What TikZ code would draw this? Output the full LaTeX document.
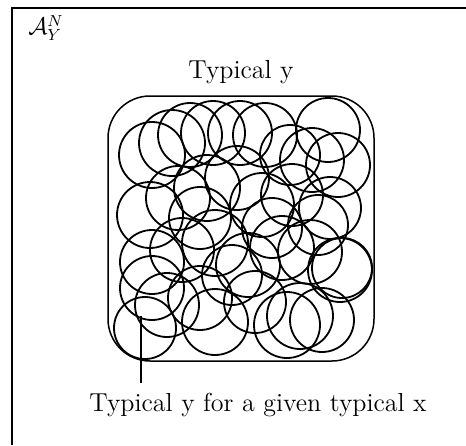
\documentclass[tikz,border=0pt]{standalone}
\usepackage{amsmath}
\usetikzlibrary{positioning}

\begin{document}
\begin{tikzpicture}[
    x=0.5pt, y=-0.5pt,
    frame/.style={line width=1pt}, % outer box
    setbox/.style={line width=0.75pt, rounded corners=21pt}, % typical set
    ball/.style={line width=0.9pt}, % conditional sets
    lbl/.style={font=\fontsize{13}{15}\selectfont, inner sep=1pt}
]
    \useasboundingbox (0,0) rectangle (466,445);

    % Outer frame
    \draw[frame] (12,445) -- (12,8) -- (466,8);
    \node (space) [font=\large] at (46,28) {$\mathcal{A}_{Y}^{N}$};

    % Typical set
    \draw[setbox] (108,96) rectangle (374,361);
    \node (top) [lbl] at (241,72) {Typical y};

    % Circles (typical y for each typical x)
    \foreach \cx/\cy/\r in {
        152/155/33, 172/143/33, 190/135/32, 213/133/32, 240/133/32,
        265/135/32, 328/130/32, 312/160/32, 338/165/32, 290/155/30,
        150/215/33, 178/198/32, 207/188/33, 237/178/32, 262/205/32,
        292/195/31, 330/208/31, 318/225/30,
        152/262/32, 182/250/32, 215/243/33, 248/265/32, 282/248/32,
        310/252/32, 340/270/32, 342/268/30, 200/218/31, 272/228/30,
        145/328/31, 167/305/32, 200/298/32, 215/322/33, 255/302/31,
        287/325/33, 300/316/33, 322/320/32, 152/288/32, 232/275/30} {
        \draw[ball] (\cx,\cy) circle[radius=\r];
    }

    % Pointer to one circle
    \coordinate (tip) at (141,316);
    \coordinate (foot) at (141,383);
    \draw[line width=0.7pt] (tip) -- (foot);
    \node (given) [lbl] at (258,405) {Typical y for a given typical x};

\end{tikzpicture}
\end{document}
